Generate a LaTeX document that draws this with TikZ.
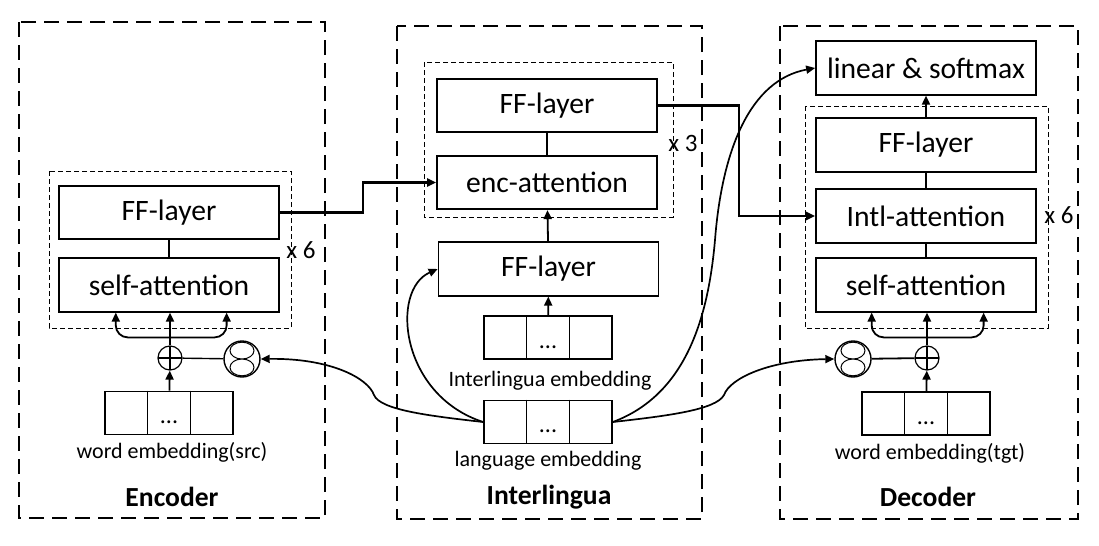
\documentclass[tikz,border=0pt]{standalone}
\usepackage{fontspec}
\setmainfont{Carlito}
\usetikzlibrary{arrows.meta,calc}
\newcommand{\embcells}[1]{%
  \draw[line width=0.5pt] ($(#1.north west)!1/3!(#1.north east)$) -- ($(#1.south west)!1/3!(#1.south east)$);
  \draw[line width=0.5pt] ($(#1.north west)!2/3!(#1.north east)$) -- ($(#1.south west)!2/3!(#1.south east)$);
  \node[font=\fontsize{12}{14}\selectfont, anchor=base, inner sep=0pt] (#1dots) at ($(#1.north)+(0,33)$) {...};}
\begin{document}
\begin{tikzpicture}[x=0.5pt,y=-0.5pt,
 box/.style={draw, line width=0.85pt, minimum width=110pt, minimum height=26.75pt, inner sep=0pt, font=\fontsize{14.8}{16}\selectfont},
 emb/.style={draw, line width=0.85pt, minimum width=64pt, minimum height=21.5pt, inner sep=0pt},
 outerbox/.style={line width=1.25pt, dash pattern=on 7.5pt off 4pt},
 innerbox/.style={line width=0.5pt, dash pattern=on 2.5pt off 1.5pt},
 lbl/.style={font=\fontsize{11}{12}\selectfont, inner sep=0pt},
 ttl/.style={font=\fontsize{13.8}{15}\selectfont\bfseries, inner sep=0pt},
 rep/.style={font=\fontsize{12.5}{14}\selectfont, inner sep=0pt, anchor=west},
 arr/.style={-{Triangle[length=4.5pt,width=4pt]}},
 link/.style={line width=0.9pt},
 thinlink/.style={line width=0.7pt},
 thicklink/.style={line width=1.3pt},
 curve/.style={line width=0.85pt},
 plus/.style={circle, draw, line width=0.6pt, minimum size=12pt, inner sep=0pt,
   path picture={\draw[line width=0.6pt] (path picture bounding box.north) -- (path picture bounding box.south) (path picture bounding box.west) -- (path picture bounding box.east);}},
 eight/.style={circle, draw, line width=0.7pt, minimum size=18pt, inner sep=0pt,
   path picture={\draw[line width=0.5pt] ([yshift=4.2pt]path picture bounding box.center) ellipse [x radius=6pt, y radius=4.2pt] ([yshift=-4.2pt]path picture bounding box.center) ellipse [x radius=6pt, y radius=4.2pt];}},
]
\useasboundingbox (0,0) rectangle (1099,546);

% outer and inner frames
\draw[outerbox] (19,22) rectangle (325,518);
\draw[outerbox] (397,26) rectangle (702,519);
\draw[outerbox] (780,26) rectangle (1078,519);
\draw[innerbox] (49,171) rectangle (291,328);
\draw[innerbox] (424,62) rectangle (673,217);
\draw[innerbox] (805,106) rectangle (1048,328);

% Encoder
\node[box] (eff) at (169,212.5) {FF-layer};
\node[box] (esa) at (169,285) {self-attention};
\node[plus] (eplus) at (170,358) {};
\node[eight] (e8) at (242,359) {};
\node[emb] (eemb) at (169,413) {};
\embcells{eemb}
\node[lbl] (esrc) at (172,452) {word embedding(src)};
\node[ttl] (etitle) at (172,497) {Encoder};
\node[rep] (erep) at (286,250) {x 6};

% Interlingua
\node[box] (iff) at (547,105.5) {FF-layer};
\node[box] (ienc) at (547,182.5) {enc-attention};
\node[box] (iff2) at (548.5,269) {FF-layer};
\node[emb] (iemb) at (548,337.5) {};
\embcells{iemb}
\node[lbl] (iemblbl) at (550,381) {Interlingua embedding};
\node[emb] (lemb) at (548,422) {};
\embcells{lemb}
\node[lbl] (lemblbl) at (548,461) {language embedding};
\node[ttl] (ititle) at (549,497) {Interlingua};
\node[rep] (irep) at (668,143) {x 3};

% Decoder
\node[box] (lin) at (926,68) {linear \& softmax};
\node[box] (dff) at (926,145) {FF-layer};
\node[box] (dint) at (926,216) {Intl-attention};
\node[box] (dsa) at (926,285) {self-attention};
\node[plus] (dplus) at (927,358) {};
\node[eight] (d8) at (853,359) {};
\node[emb] (demb) at (926,413.5) {};
\embcells{demb}
\node[lbl] (dtgt) at (930,453) {word embedding(tgt)};
\node[ttl] (dtitle) at (928,497) {Decoder};
\node[rep] (drep) at (1044,215) {x 6};

% Encoder connectors
\draw[link] (eff) -- (esa);
\draw[link,arr] (eemb) -- (eplus);
\draw[link,arr] (eplus.north) -- (eplus.north |- esa.south);
\coordinate (ej) at ($(eplus.north)+(0,-8)$);
\draw[link,arr,rounded corners=6pt] (ej) -| ($(esa.south west)!0.26!(esa.south east)$);
\draw[link,arr,rounded corners=6pt] (ej) -| ($(esa.south west)!0.76!(esa.south east)$);
\draw[thinlink] (eplus) -- (e8);
\draw[thicklink,arr] (eff.east) -- ++(83,0) |- (ienc.west);

% Interlingua connectors
\draw[link] (iff) -- (ienc);
\draw[link,arr] (iff2) -- (ienc);
\draw[link,arr] (iemb) -- (iff2);
\draw[thicklink,arr] (iff.east) -- ++(81,0) |- (dint.west);

% Decoder connectors
\draw[link] (dff) -- (dint);
\draw[link] (dint) -- (dsa);
\draw[link,arr] (dff) -- (lin);
\draw[link,arr] (demb) -- (dplus);
\draw[link,arr] (dplus.north) -- (dplus.north |- dsa.south);
\coordinate (dj) at ($(dplus.north)+(0,-8)$);
\draw[link,arr,rounded corners=6pt] (dj) -| ($(dsa.south west)!0.255!(dsa.south east)$);
\draw[link,arr,rounded corners=6pt] (dj) -| ($(dsa.south west)!0.76!(dsa.south east)$);
\draw[link] (d8) -- (dplus);

% language embedding curves
\draw[curve,arr] (lemb.west) .. controls (430,416) and (380,410) .. (374,395) .. controls (368,378) and (330,358) .. (e8.east);
\draw[curve,arr] (lemb.west) .. controls (400,395) and (390,290) .. (iff2.west);
\draw[curve,arr] (lemb.east) .. controls (685,395) and (708,320) .. (715,240) .. controls (722,150) and (750,80) .. (lin.west);
\draw[curve,arr] (lemb.east) .. controls (666,416) and (716,410) .. (724,395) .. controls (730,378) and (770,360) .. (d8.west);
\end{tikzpicture}
\end{document}
